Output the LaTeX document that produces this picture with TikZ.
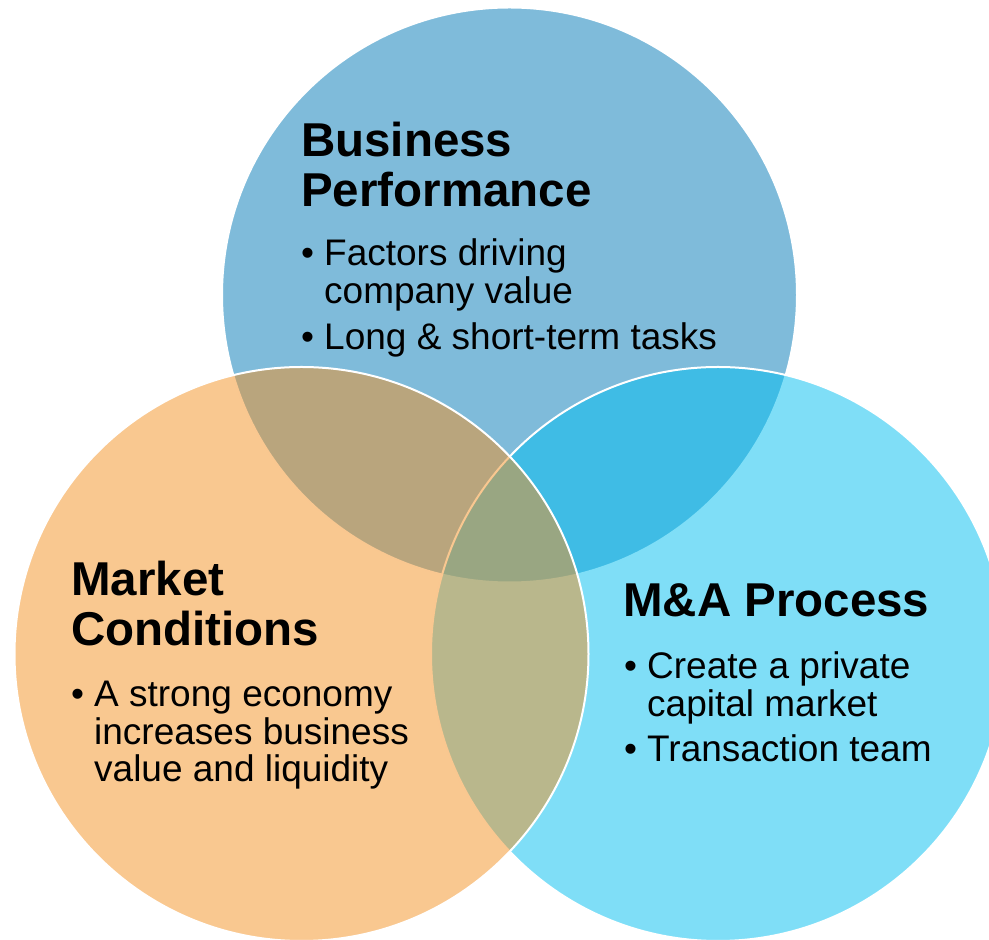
\documentclass[tikz,border=0pt]{standalone}
\usepackage{fontspec}
\setmainfont{Liberation Sans}

\definecolor{bizblue}{RGB}{0,120,182}
\definecolor{macyan}{RGB}{0,190,240}
\definecolor{mktorange}{RGB}{244,145,34}

\tikzset{
    venn/.style={draw=white, line width=2pt, fill opacity=0.5},
    heading/.style={anchor=base west, inner sep=0pt, align=left,
        font=\fontsize{47.5}{50.5}\selectfont\bfseries},
    items/.style={anchor=base west, inner sep=0pt, align=left,
        font=\fontsize{37}{37.5}\selectfont},
}
\newcommand{\bul}{\makebox[23pt][l]{•}}
\newcommand{\hang}{\hspace*{23pt}}

\begin{document}
\begin{tikzpicture}[x=1pt,y=1pt]
    % Page frame
    \useasboundingbox (0,0) rectangle (989,940);
    \clip (0,0) rectangle (989,940);

    % Draw the three circles
    \draw[venn, fill=bizblue] (509.5,645) circle (287.5);
    \draw[venn, fill=macyan] (718,286) circle (287);
    \draw[venn, fill=mktorange] (301.5,286) circle (287);

    % Business Performance (anchored on last baseline)
    \node[heading] (bizTitle) at (301,733) {Business\\Performance};
    \node[items] (bizItems) at (301,590)
        {\bul Factors driving\\\hang company value\\[9pt]\bul Long \& short-term tasks};

    % Market Conditions
    \node[heading] (mktTitle) at (71,294) {Market\\Conditions};
    \node[items] (mktItems) at (71,158)
        {\bul A strong economy\\\hang increases business\\\hang value and liquidity};

    % M&A Process
    \node[heading] (maTitle) at (623,323) {M\&A Process};
    \node[items] (maItems) at (624,178)
        {\bul Create a private\\\hang capital market\\[8pt]\bul Transaction team};

\end{tikzpicture}
\end{document}
